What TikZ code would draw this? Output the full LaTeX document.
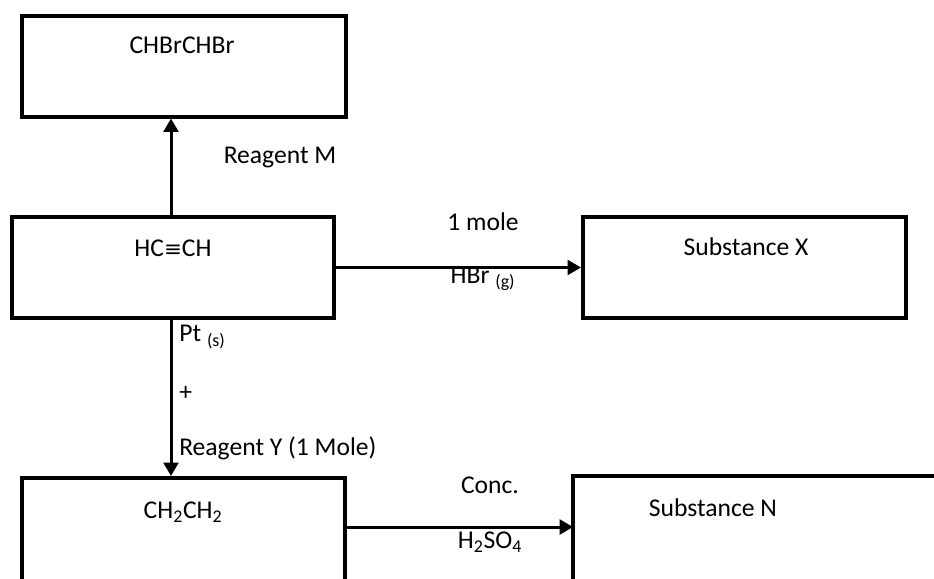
\documentclass[tikz,border=0pt]{standalone}
\usepackage{fontspec}
\setmainfont{Carlito}
\newfontfamily\symfont{DejaVu Sans}
\usetikzlibrary{arrows.meta}
\begin{document}
\begin{tikzpicture}[x=0.75pt,y=-0.75pt,
  box/.style={draw=black,line width=3pt,rectangle,inner sep=0pt,minimum width=#1,minimum height=75.75pt},
  edge/.style={draw=black,line width=3pt},
  lbl/.style={inner sep=0pt,font=\fontsize{19.2}{23}\selectfont},
  arr/.style={line width=2.25pt,-{Triangle[length=10pt,width=11pt]}}]
\useasboundingbox (0,0) rectangle (934,578);
\clip (0,0) rectangle (934,578);
% boxes
\node[box=243pt] (b1) at (184,66) {};
\node[box=241.5pt] (b2) at (173,267.5) {};
\node[box=242.25pt] (bx) at (744.5,267.5) {};
\node[box=242.25pt,minimum height=90pt] (b3) at (183.5,538) {};
\node[box=340pt,minimum height=90pt,draw=none] (bn) at (801.7,538) {};
\draw[edge] (bn.south west) -- (bn.north west) -- (bn.north east);
\coordinate (vx) at (171,0);
\coordinate (hy) at (0,527);
% connectors
\draw[arr] (b2.north -| vx) -- (b1.south -| vx);
\draw[arr] (b2.east) -- (bx.west);
\draw[arr] (b2.south -| vx) -- (b3.north -| vx);
\draw[arr] (b3.east |- hy) -- (bn.west |- hy);
% texts
\node[lbl] (t1) at (182,45) {CHBrCHBr};
\node[lbl] (tm) at (280,157) {Reagent M};
\node[lbl] (t2) at (173,248) {HC{\symfont\fontsize{16}{18}\selectfont ≡}CH};
\node[lbl] (t1m) at (483,222) {1 mole};
\node[lbl] (thbr) at (483,279) {HBr \textsubscript{(g)}};
\node[lbl] (tx) at (746,247) {Substance X};
\node[lbl,anchor=west] (tpt) at (179,337) {Pt \textsubscript{(s)}};
\node[lbl,anchor=west] (tplus) at (179,393) {+};
\node[lbl,anchor=west] (ty) at (179,448) {Reagent Y (1 Mole)};
\node[lbl] (t3) at (183,512) {CH\textsubscript{2}CH\textsubscript{2}};
\node[lbl] (tc) at (490,485) {Conc.};
\node[lbl] (th) at (490,542) {H\textsubscript{2}SO\textsubscript{4}};
\node[lbl] (tn) at (713,508) {Substance N};
\end{tikzpicture}
\end{document}
